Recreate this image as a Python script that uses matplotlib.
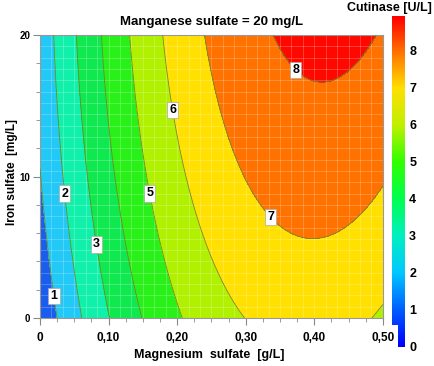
import numpy as np
import matplotlib
matplotlib.use('Agg')
import matplotlib.pyplot as plt
from matplotlib.colors import LinearSegmentedColormap

plt.rcParams['font.family'] = ['Liberation Sans', 'DejaVu Sans']
plt.rcParams['font.weight'] = 'bold'

# points: Mg sulfate [g/L], Fe sulfate [mg/L], Cutinase [U/L]
mg_pts = [0.025, 0.000, 0.020,
          0.061, 0.019, 0.036, 0.034,
          0.101, 0.054, 0.082, 0.070,
          0.150, 0.090, 0.109,
          0.207, 0.131, 0.159, 0.153,
          0.299, 0.179, 0.194, 0.210, 0.484, 0.500,
          0.240, 0.338, 0.401, 0.500,
          0.340, 0.493, 0.412, 0.372]
fe_pts = [0.0, 10.8, 1.55,
          0.0, 20.0, 8.8, 10.0,
          0.0, 20.0, 5.2, 10.0,
          0.0, 20.0, 10.0,
          0.0, 20.0, 8.8, 10.0,
          0.0, 20.0, 14.7, 10.0, 0.0, 0.92,
          20.0, 7.2, 5.87, 9.4,
          20.0, 20.0, 16.8, 17.5]
cut_pts = [1, 1, 1,
           2, 2, 2, 2,
           3, 3, 3, 3,
           4, 4, 4,
           5, 5, 5, 5,
           6, 6, 6, 6, 6, 6,
           7, 7, 7, 7,
           8, 8, 8, 8]
# how much each read point counts in the fit (corner points are the sharpest readings)
pt_weight = [1, 1, 1,
             1, 1, 1, 1,
             1, 1, 1, 1,
             1, 1, 1,
             1, 1, 1, 1,
             2, 1, 1, 1, 5, 5,
             1, 1, 2, 1,
             1, 1, 2, 1]

levels = [1, 2, 3, 4, 5, 6, 7, 8]
band_colors = ['#1a5ef0', '#22c8f6', '#10f0aa', '#10e850', '#28f018',
               '#b0f000', '#ffe000', '#ff7200', '#ff0800']
cbar_vals = [0, 1, 2, 3, 4, 5, 6, 7, 8, 8.94]
cbar_colors = ['#0000ff', '#0060ff', '#00c8ff', '#00f0c0', '#00ff50',
               '#30ff00', '#c0f000', '#ffe000', '#ff7000', '#ff0000']
label_pos = [(0.020, 1.55), (0.036, 8.8), (0.082, 5.2), (0.159, 8.8),
             (0.194, 14.7), (0.338, 7.2), (0.372, 17.5)]
xticks = [0, 0.1, 0.2, 0.3, 0.4, 0.5]
xticklabels = ['0', '0,10', '0,20', '0,30', '0,40', '0,50']
yticks = [0, 10, 20]

# quadratic response surface through the read points
x = np.array(mg_pts)
y = np.array(fe_pts)
w = np.sqrt(np.array(pt_weight, float))
A = np.column_stack([np.ones_like(x), x, y, x * y, x ** 2, y ** 2])
coef = np.linalg.lstsq(A * w[:, None], np.array(cut_pts, float) * w, rcond=None)[0]

gx, gy = np.meshgrid(np.linspace(0, 0.5, 300), np.linspace(0, 20, 300))
Z = (coef[0] + coef[1] * gx + coef[2] * gy + coef[3] * gx * gy
     + coef[4] * gx ** 2 + coef[5] * gy ** 2)

fig = plt.figure(figsize=(4.35, 3.66), dpi=100)
ax = fig.add_axes([0.092, 0.131, 0.788, 0.773])

ax.contourf(gx, gy, Z, levels=[-50] + levels + [50], colors=band_colors, zorder=1)
# faint white mesh
for gxv in np.linspace(0, 0.5, 31)[1:-1]:
    ax.axvline(gxv, color='white', lw=0.5, alpha=0.3, zorder=2)
for gyv in np.arange(0.8, 20, 0.8):
    ax.axhline(gyv, color='white', lw=0.5, alpha=0.3, zorder=2)
cs = ax.contour(gx, gy, Z, levels=levels, colors='#6f8a2a', linewidths=0.6, zorder=3)
txts = cs.clabel(manual=label_pos, inline=False, fmt='%d', fontsize=9)
for t in txts:
    t.set_rotation(0)
    t.set_color('black')
    t.set_fontweight('bold')
    t.set_bbox(dict(boxstyle='square,pad=0.18', fc='white', ec='#aaaaaa', lw=0.5))
    t.set_zorder(5)

ax.set_xlim(0, 0.5)
ax.set_ylim(0, 20)
ax.set_xticks(xticks)
ax.set_xticklabels(xticklabels, fontsize=8.5, fontweight='bold')
ax.set_xticks(np.arange(0, 0.501, 0.025), minor=True)
ax.set_yticks(yticks)
ax.set_yticklabels([str(v) for v in yticks], fontsize=7, fontweight='bold')
ax.set_yticks(np.arange(0, 20.1, 2), minor=True)
ax.tick_params(which='major', length=5, color='#888888', direction='out')
ax.tick_params(which='minor', length=3, color='#888888', direction='out')
ax.tick_params(axis='x', pad=5)
ax.tick_params(axis='y', pad=2)
for s in ax.spines.values():
    s.set_color('#999999')
    s.set_linewidth(0.8)

fig.text(0.486, 0.94, 'Manganese sulfate = 20 mg/L', ha='center', va='center',
         fontsize=9.5, fontweight='bold')
fig.text(0.48, 0.03, 'Magnesium  sulfate  [g/L]', ha='center', va='center',
         fontsize=9, fontweight='bold')
fig.text(0.028, 0.53, 'Iron sulfate  [mg/L]', ha='center', va='center',
         rotation=90, fontsize=8.5, fontweight='bold')
fig.text(0.895, 0.978, 'Cutinase [U/L]', ha='center', va='center',
         fontsize=9, fontweight='bold')

# colour bar: wide bar above ~0.6, narrower strip below it
cmap = LinearSegmentedColormap.from_list(
    'cut', [(v / cbar_vals[-1], c) for v, c in zip(cbar_vals, cbar_colors)])
cax = fig.add_axes([0.901, 0.052, 0.030, 0.904])
cax.patch.set_visible(False)
grad = np.linspace(0, cbar_vals[-1], 400).reshape(-1, 1)
im = cax.imshow(grad, cmap=cmap, vmin=0, vmax=cbar_vals[-1], origin='lower',
                extent=[0, 1, 0, cbar_vals[-1]], aspect='auto')
im.set_clip_path(plt.Polygon([[0, 0.59], [0, cbar_vals[-1]], [1, cbar_vals[-1]],
                              [1, 0], [0.46, 0], [0.46, 0.59]],
                             transform=cax.transData))
cax.set_xlim(0, 1)
cax.set_ylim(0, cbar_vals[-1])
cax.set_xticks([])
cax.yaxis.tick_right()
cax.set_yticks(range(9))
cax.set_yticklabels([str(v) for v in range(9)], fontsize=9, fontweight='bold')
cax.tick_params(axis='y', length=0, pad=3)
for s in cax.spines.values():
    s.set_visible(False)

fig.savefig('out.png', dpi=100)
